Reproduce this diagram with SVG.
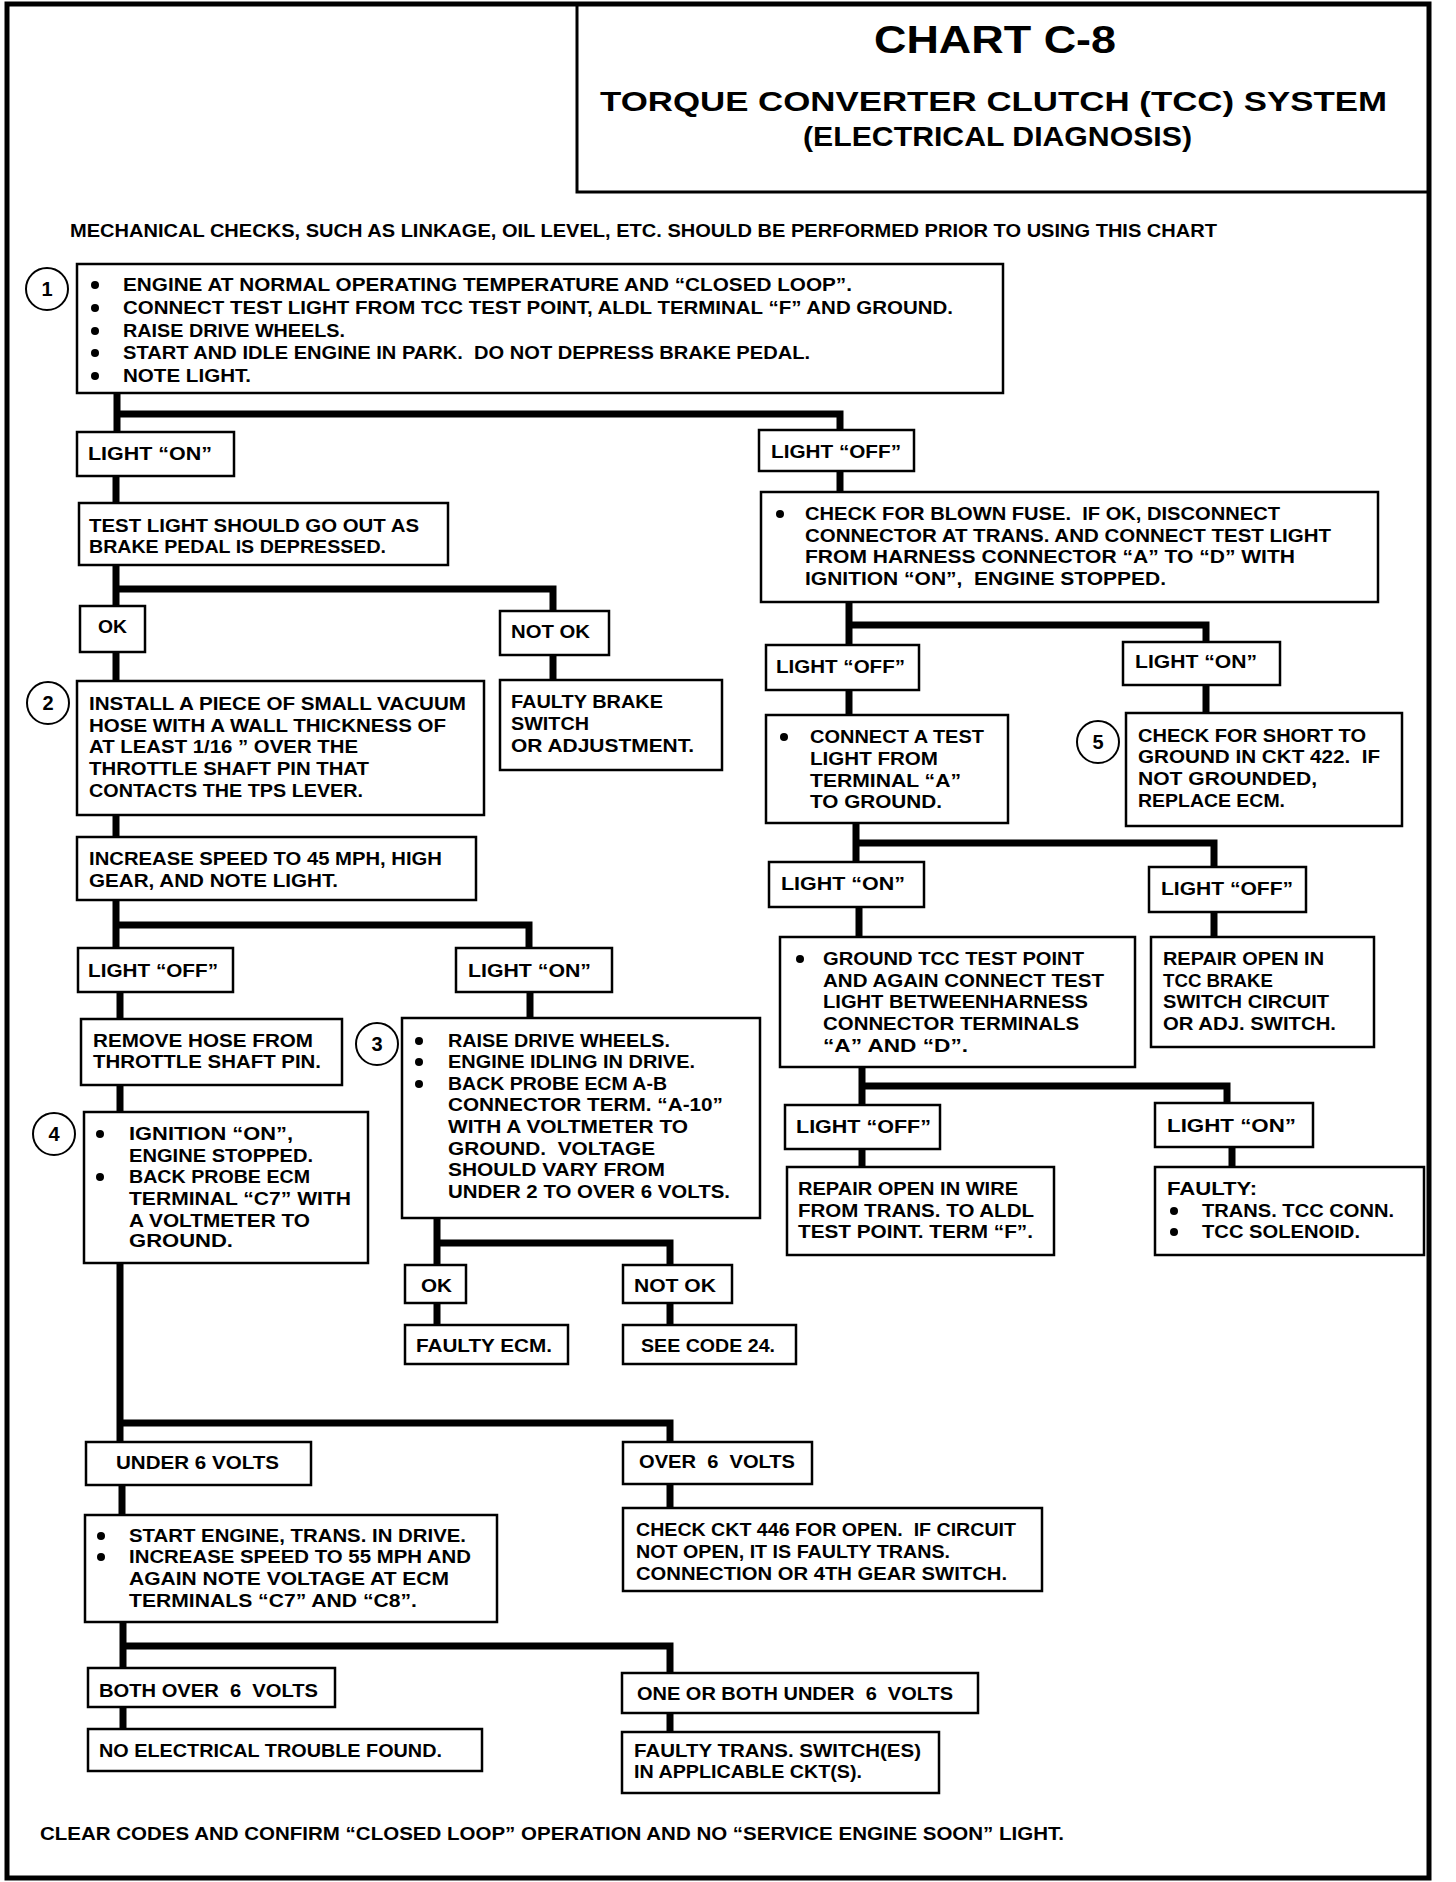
<svg xmlns="http://www.w3.org/2000/svg" width="1456" height="1882" viewBox="0 0 1456 1882">
<style>
.b{fill:#fff;stroke:#000;stroke-width:2.5}
.t{font-family:"Liberation Sans",Arial,sans-serif;font-weight:bold;font-size:18.5px;fill:#000;white-space:pre}
.h{font-family:"Liberation Sans",Arial,sans-serif;font-weight:bold;fill:#000}
.c{fill:none;stroke:#000;stroke-width:7;stroke-linejoin:miter}
.n{fill:#fff;stroke:#000;stroke-width:2}
.d{fill:#000}
.ct{font-family:"Liberation Sans",Arial,sans-serif;font-weight:bold;font-size:20px;fill:#000;text-anchor:middle}
</style>
<rect width="1456" height="1882" fill="#fff"/>
<g id="frame">
<rect x="7" y="4" width="1422" height="1874" fill="none" stroke="#000" stroke-width="5"/>
<path d="M577,4 V192 H1429" fill="none" stroke="#000" stroke-width="3"/>
<text class="h" x="874" y="53" font-size="39" textLength="242" lengthAdjust="spacingAndGlyphs">CHART C-8</text>
<text class="h" x="600" y="111" font-size="28" textLength="787" lengthAdjust="spacingAndGlyphs">TORQUE CONVERTER CLUTCH (TCC) SYSTEM</text>
<text class="h" x="803" y="146" font-size="28" textLength="389" lengthAdjust="spacingAndGlyphs">(ELECTRICAL DIAGNOSIS)</text>
<text class="t" x="70" y="237" textLength="1147" lengthAdjust="spacingAndGlyphs">MECHANICAL CHECKS, SUCH AS LINKAGE, OIL LEVEL, ETC. SHOULD BE PERFORMED PRIOR TO USING THIS CHART</text>
<text class="t" x="40" y="1840" font-size="20" textLength="1024" lengthAdjust="spacingAndGlyphs">CLEAR CODES AND CONFIRM “CLOSED LOOP” OPERATION AND NO “SERVICE ENGINE SOON” LIGHT.</text>
</g>
<g id="connectors">
<path class="c" d="M117,393 V432 M117,414 H840 V430"/>
<path class="c" d="M116,476 V503"/>
<path class="c" d="M116,565 V606 M116,589 H553 V611"/>
<path class="c" d="M553,655 V680"/>
<path class="c" d="M116,652 V681"/>
<path class="c" d="M116,815 V837"/>
<path class="c" d="M116,900 V948 M116,925 H529 V948"/>
<path class="c" d="M120,992 V1019"/>
<path class="c" d="M120,1085 V1112"/>
<path class="c" d="M120,1263 V1442 M120,1423 H670 V1442"/>
<path class="c" d="M530,992 V1018"/>
<path class="c" d="M437,1218 V1265 M437,1243 H670 V1265"/>
<path class="c" d="M437,1303 V1325 M670,1303 V1325"/>
<path class="c" d="M840,471 V492"/>
<path class="c" d="M849,602 V645 M849,625 H1206 V642"/>
<path class="c" d="M849,690 V715"/>
<path class="c" d="M1206,685 V713"/>
<path class="c" d="M856,823 V862 M856,843 H1214 V867"/>
<path class="c" d="M859,907 V937 M1214,912 V937"/>
<path class="c" d="M862,1067 V1105 M862,1086 H1227 V1103"/>
<path class="c" d="M862,1149 V1167 M1232,1147 V1167"/>
<path class="c" d="M122,1485 V1515 M670,1484 V1508"/>
<path class="c" d="M123,1622 V1668 M123,1646 H670 V1673"/>
<path class="c" d="M123,1707 V1729 M670,1713 V1732"/>
</g>
<g id="n1">
<circle class="n" cx="47" cy="289" r="21"/><text class="ct" x="47" y="296">1</text>
<rect class="b" x="77" y="264" width="926" height="129"/>
<circle class="d" cx="95" cy="285" r="4"/><circle class="d" cx="95" cy="308" r="4"/><circle class="d" cx="95" cy="331" r="4"/><circle class="d" cx="95" cy="353" r="4"/><circle class="d" cx="95" cy="376" r="4"/>
<text class="t" x="123" y="291" textLength="729" lengthAdjust="spacingAndGlyphs">ENGINE AT NORMAL OPERATING TEMPERATURE AND “CLOSED LOOP”.</text>
<text class="t" x="123" y="314" textLength="830" lengthAdjust="spacingAndGlyphs">CONNECT TEST LIGHT FROM TCC TEST POINT, ALDL TERMINAL “F” AND GROUND.</text>
<text class="t" x="123" y="337" textLength="222" lengthAdjust="spacingAndGlyphs">RAISE DRIVE WHEELS.</text>
<text class="t" x="123" y="359" textLength="687" lengthAdjust="spacingAndGlyphs">START AND IDLE ENGINE IN PARK.  DO NOT DEPRESS BRAKE PEDAL.</text>
<text class="t" x="123" y="382" textLength="128" lengthAdjust="spacingAndGlyphs">NOTE LIGHT.</text>
</g>
<g id="n_on1"><rect class="b" x="77" y="432" width="157" height="44"/><text class="t" x="88" y="460" textLength="124" lengthAdjust="spacingAndGlyphs">LIGHT “ON”</text></g>
<g id="n_test"><rect class="b" x="79" y="503" width="369" height="62"/>
<text class="t" x="89" y="532" textLength="330" lengthAdjust="spacingAndGlyphs">TEST LIGHT SHOULD GO OUT AS</text>
<text class="t" x="89" y="553" textLength="297" lengthAdjust="spacingAndGlyphs">BRAKE PEDAL IS DEPRESSED.</text></g>
<g id="n_ok1"><rect class="b" x="80" y="606" width="65" height="46"/><text class="t" x="98" y="633" textLength="29" lengthAdjust="spacingAndGlyphs">OK</text></g>
<g id="n_notok1"><rect class="b" x="500" y="611" width="109" height="44"/><text class="t" x="511" y="638" textLength="79" lengthAdjust="spacingAndGlyphs">NOT OK</text></g>
<g id="n_brake"><rect class="b" x="500" y="680" width="222" height="90"/>
<text class="t" x="511" y="708" textLength="152" lengthAdjust="spacingAndGlyphs">FAULTY BRAKE</text>
<text class="t" x="511" y="730" textLength="78" lengthAdjust="spacingAndGlyphs">SWITCH</text>
<text class="t" x="511" y="752" textLength="183" lengthAdjust="spacingAndGlyphs">OR ADJUSTMENT.</text></g>
<g id="n2">
<circle class="n" cx="48" cy="703" r="21"/><text class="ct" x="48" y="710">2</text>
<rect class="b" x="77" y="681" width="407" height="134"/>
<text class="t" x="89" y="710" textLength="377" lengthAdjust="spacingAndGlyphs">INSTALL A PIECE OF SMALL VACUUM</text>
<text class="t" x="89" y="732" textLength="357" lengthAdjust="spacingAndGlyphs">HOSE WITH A WALL THICKNESS OF</text>
<text class="t" x="89" y="753" textLength="269" lengthAdjust="spacingAndGlyphs">AT LEAST 1/16 ” OVER THE</text>
<text class="t" x="89" y="775" textLength="280" lengthAdjust="spacingAndGlyphs">THROTTLE SHAFT PIN THAT</text>
<text class="t" x="89" y="797" textLength="274" lengthAdjust="spacingAndGlyphs">CONTACTS THE TPS LEVER.</text></g>
<g id="n_inc45"><rect class="b" x="77" y="837" width="399" height="63"/>
<text class="t" x="89" y="865" textLength="353" lengthAdjust="spacingAndGlyphs">INCREASE SPEED TO 45 MPH, HIGH</text>
<text class="t" x="89" y="887" textLength="249" lengthAdjust="spacingAndGlyphs">GEAR, AND NOTE LIGHT.</text></g>
<g id="n_off2"><rect class="b" x="78" y="948" width="155" height="44"/><text class="t" x="88" y="977" textLength="130" lengthAdjust="spacingAndGlyphs">LIGHT “OFF”</text></g>
<g id="n_on3"><rect class="b" x="456" y="948" width="156" height="44"/><text class="t" x="468" y="977" textLength="123" lengthAdjust="spacingAndGlyphs">LIGHT “ON”</text></g>
<g id="n_remove"><rect class="b" x="81" y="1019" width="261" height="66"/>
<text class="t" x="93" y="1047" textLength="220" lengthAdjust="spacingAndGlyphs">REMOVE HOSE FROM</text>
<text class="t" x="93" y="1068" textLength="228" lengthAdjust="spacingAndGlyphs">THROTTLE SHAFT PIN.</text></g>
<g id="n4">
<circle class="n" cx="54" cy="1134" r="21"/><text class="ct" x="54" y="1141">4</text>
<rect class="b" x="84" y="1112" width="284" height="151"/>
<circle class="d" cx="100" cy="1134" r="4"/><circle class="d" cx="100" cy="1177" r="4"/>
<text class="t" x="129" y="1140" textLength="164" lengthAdjust="spacingAndGlyphs">IGNITION “ON”,</text>
<text class="t" x="129" y="1162" textLength="184" lengthAdjust="spacingAndGlyphs">ENGINE STOPPED.</text>
<text class="t" x="129" y="1183" textLength="181" lengthAdjust="spacingAndGlyphs">BACK PROBE ECM</text>
<text class="t" x="129" y="1205" textLength="222" lengthAdjust="spacingAndGlyphs">TERMINAL “C7” WITH</text>
<text class="t" x="129" y="1227" textLength="181" lengthAdjust="spacingAndGlyphs">A VOLTMETER TO</text>
<text class="t" x="129" y="1247" textLength="104" lengthAdjust="spacingAndGlyphs">GROUND.</text></g>
<g id="n3">
<circle class="n" cx="377" cy="1044" r="21"/><text class="ct" x="377" y="1051">3</text>
<rect class="b" x="402" y="1018" width="358" height="200"/>
<circle class="d" cx="419" cy="1041" r="4"/><circle class="d" cx="419" cy="1062" r="4"/><circle class="d" cx="419" cy="1084" r="4"/>
<text class="t" x="448" y="1047" textLength="222" lengthAdjust="spacingAndGlyphs">RAISE DRIVE WHEELS.</text>
<text class="t" x="448" y="1068" textLength="247" lengthAdjust="spacingAndGlyphs">ENGINE IDLING IN DRIVE.</text>
<text class="t" x="448" y="1090" textLength="219" lengthAdjust="spacingAndGlyphs">BACK PROBE ECM A-B</text>
<text class="t" x="448" y="1111" textLength="275" lengthAdjust="spacingAndGlyphs">CONNECTOR TERM. “A-10”</text>
<text class="t" x="448" y="1133" textLength="240" lengthAdjust="spacingAndGlyphs">WITH A VOLTMETER TO</text>
<text class="t" x="448" y="1155" textLength="207" lengthAdjust="spacingAndGlyphs">GROUND.  VOLTAGE</text>
<text class="t" x="448" y="1176" textLength="217" lengthAdjust="spacingAndGlyphs">SHOULD VARY FROM</text>
<text class="t" x="448" y="1198" textLength="282" lengthAdjust="spacingAndGlyphs">UNDER 2 TO OVER 6 VOLTS.</text></g>
<g id="n_ok2"><rect class="b" x="405" y="1265" width="61" height="38"/><text class="t" x="421" y="1292" textLength="31" lengthAdjust="spacingAndGlyphs">OK</text></g>
<g id="n_notok2"><rect class="b" x="623" y="1265" width="109" height="38"/><text class="t" x="634" y="1292" textLength="82" lengthAdjust="spacingAndGlyphs">NOT OK</text></g>
<g id="n_ecm"><rect class="b" x="405" y="1325" width="163" height="39"/><text class="t" x="416" y="1352" textLength="136" lengthAdjust="spacingAndGlyphs">FAULTY ECM.</text></g>
<g id="n_code24"><rect class="b" x="623" y="1325" width="173" height="39"/><text class="t" x="641" y="1352" textLength="134" lengthAdjust="spacingAndGlyphs">SEE CODE 24.</text></g>
<g id="n_off1"><rect class="b" x="759" y="430" width="155" height="41"/><text class="t" x="771" y="458" textLength="130" lengthAdjust="spacingAndGlyphs">LIGHT “OFF”</text></g>
<g id="n_fuse"><rect class="b" x="761" y="492" width="617" height="110"/>
<circle class="d" cx="780" cy="514" r="4"/>
<text class="t" x="805" y="520" textLength="475" lengthAdjust="spacingAndGlyphs">CHECK FOR BLOWN FUSE.  IF OK, DISCONNECT</text>
<text class="t" x="805" y="542" textLength="526" lengthAdjust="spacingAndGlyphs">CONNECTOR AT TRANS. AND CONNECT TEST LIGHT</text>
<text class="t" x="805" y="563" textLength="490" lengthAdjust="spacingAndGlyphs">FROM HARNESS CONNECTOR “A” TO “D” WITH</text>
<text class="t" x="805" y="585" textLength="361" lengthAdjust="spacingAndGlyphs">IGNITION “ON”,  ENGINE STOPPED.</text></g>
<g id="n_off3"><rect class="b" x="766" y="645" width="153" height="45"/><text class="t" x="776" y="673" textLength="129" lengthAdjust="spacingAndGlyphs">LIGHT “OFF”</text></g>
<g id="n_on2"><rect class="b" x="1123" y="642" width="157" height="43"/><text class="t" x="1135" y="668" textLength="122" lengthAdjust="spacingAndGlyphs">LIGHT “ON”</text></g>
<g id="n_connect"><rect class="b" x="766" y="715" width="242" height="108"/>
<circle class="d" cx="784" cy="737" r="4"/>
<text class="t" x="810" y="743" textLength="174" lengthAdjust="spacingAndGlyphs">CONNECT A TEST</text>
<text class="t" x="810" y="765" textLength="128" lengthAdjust="spacingAndGlyphs">LIGHT FROM</text>
<text class="t" x="810" y="787" textLength="151" lengthAdjust="spacingAndGlyphs">TERMINAL “A”</text>
<text class="t" x="810" y="808" textLength="132" lengthAdjust="spacingAndGlyphs">TO GROUND.</text></g>
<g id="n5">
<circle class="n" cx="1098" cy="742" r="21"/><text class="ct" x="1098" y="749">5</text>
<rect class="b" x="1126" y="713" width="276" height="113"/>
<text class="t" x="1138" y="742" textLength="228" lengthAdjust="spacingAndGlyphs">CHECK FOR SHORT TO</text>
<text class="t" x="1138" y="763" textLength="242" lengthAdjust="spacingAndGlyphs">GROUND IN CKT 422.  IF</text>
<text class="t" x="1138" y="785" textLength="179" lengthAdjust="spacingAndGlyphs">NOT GROUNDED,</text>
<text class="t" x="1138" y="807" textLength="147" lengthAdjust="spacingAndGlyphs">REPLACE ECM.</text></g>
<g id="n_on4"><rect class="b" x="769" y="862" width="155" height="45"/><text class="t" x="781" y="890" textLength="124" lengthAdjust="spacingAndGlyphs">LIGHT “ON”</text></g>
<g id="n_off4"><rect class="b" x="1149" y="867" width="157" height="45"/><text class="t" x="1161" y="895" textLength="132" lengthAdjust="spacingAndGlyphs">LIGHT “OFF”</text></g>
<g id="n_ground"><rect class="b" x="780" y="937" width="355" height="130"/>
<circle class="d" cx="800" cy="959" r="4"/>
<text class="t" x="823" y="965" textLength="261" lengthAdjust="spacingAndGlyphs">GROUND TCC TEST POINT</text>
<text class="t" x="823" y="987" textLength="281" lengthAdjust="spacingAndGlyphs">AND AGAIN CONNECT TEST</text>
<text class="t" x="823" y="1008" textLength="265" lengthAdjust="spacingAndGlyphs">LIGHT BETWEENHARNESS</text>
<text class="t" x="823" y="1030" textLength="256" lengthAdjust="spacingAndGlyphs">CONNECTOR TERMINALS</text>
<text class="t" x="823" y="1052" textLength="145" lengthAdjust="spacingAndGlyphs">“A” AND “D”.</text></g>
<g id="n_brakesw"><rect class="b" x="1151" y="937" width="223" height="110"/>
<text class="t" x="1163" y="965" textLength="161" lengthAdjust="spacingAndGlyphs">REPAIR OPEN IN</text>
<text class="t" x="1163" y="987" textLength="110" lengthAdjust="spacingAndGlyphs">TCC BRAKE</text>
<text class="t" x="1163" y="1008" textLength="166" lengthAdjust="spacingAndGlyphs">SWITCH CIRCUIT</text>
<text class="t" x="1163" y="1030" textLength="173" lengthAdjust="spacingAndGlyphs">OR ADJ. SWITCH.</text></g>
<g id="n_off5"><rect class="b" x="785" y="1105" width="155" height="44"/><text class="t" x="796" y="1133" textLength="135" lengthAdjust="spacingAndGlyphs">LIGHT “OFF”</text></g>
<g id="n_on5"><rect class="b" x="1155" y="1103" width="158" height="44"/><text class="t" x="1167" y="1132" textLength="129" lengthAdjust="spacingAndGlyphs">LIGHT “ON”</text></g>
<g id="n_wire"><rect class="b" x="787" y="1167" width="267" height="88"/>
<text class="t" x="798" y="1195" textLength="220" lengthAdjust="spacingAndGlyphs">REPAIR OPEN IN WIRE</text>
<text class="t" x="798" y="1217" textLength="236" lengthAdjust="spacingAndGlyphs">FROM TRANS. TO ALDL</text>
<text class="t" x="798" y="1238" textLength="235" lengthAdjust="spacingAndGlyphs">TEST POINT. TERM “F”.</text></g>
<g id="n_faulty"><rect class="b" x="1155" y="1167" width="269" height="88"/>
<circle class="d" cx="1174" cy="1211" r="4"/><circle class="d" cx="1174" cy="1232" r="4"/>
<text class="t" x="1167" y="1195" textLength="90" lengthAdjust="spacingAndGlyphs">FAULTY:</text>
<text class="t" x="1202" y="1217" textLength="192" lengthAdjust="spacingAndGlyphs">TRANS. TCC CONN.</text>
<text class="t" x="1202" y="1238" textLength="158" lengthAdjust="spacingAndGlyphs">TCC SOLENOID.</text></g>
<g id="n_under6"><rect class="b" x="86" y="1442" width="225" height="43"/><text class="t" x="116" y="1469" textLength="163" lengthAdjust="spacingAndGlyphs">UNDER 6 VOLTS</text></g>
<g id="n_over6"><rect class="b" x="623" y="1442" width="189" height="42"/><text class="t" x="639" y="1468" textLength="156" lengthAdjust="spacingAndGlyphs">OVER  6  VOLTS</text></g>
<g id="n_start"><rect class="b" x="85" y="1515" width="412" height="107"/>
<circle class="d" cx="101" cy="1536" r="4"/><circle class="d" cx="101" cy="1557" r="4"/>
<text class="t" x="129" y="1542" textLength="337" lengthAdjust="spacingAndGlyphs">START ENGINE, TRANS. IN DRIVE.</text>
<text class="t" x="129" y="1563" textLength="342" lengthAdjust="spacingAndGlyphs">INCREASE SPEED TO 55 MPH AND</text>
<text class="t" x="129" y="1585" textLength="320" lengthAdjust="spacingAndGlyphs">AGAIN NOTE VOLTAGE AT ECM</text>
<text class="t" x="129" y="1607" textLength="288" lengthAdjust="spacingAndGlyphs">TERMINALS “C7” AND “C8”.</text></g>
<g id="n_ckt446"><rect class="b" x="623" y="1508" width="419" height="83"/>
<text class="t" x="636" y="1536" textLength="380" lengthAdjust="spacingAndGlyphs">CHECK CKT 446 FOR OPEN.  IF CIRCUIT</text>
<text class="t" x="636" y="1558" textLength="314" lengthAdjust="spacingAndGlyphs">NOT OPEN, IT IS FAULTY TRANS.</text>
<text class="t" x="636" y="1580" textLength="371" lengthAdjust="spacingAndGlyphs">CONNECTION OR 4TH GEAR SWITCH.</text></g>
<g id="n_bothover"><rect class="b" x="88" y="1668" width="247" height="39"/><text class="t" x="99" y="1697" textLength="219" lengthAdjust="spacingAndGlyphs">BOTH OVER  6  VOLTS</text></g>
<g id="n_oneunder"><rect class="b" x="622" y="1673" width="356" height="40"/><text class="t" x="637" y="1700" textLength="316" lengthAdjust="spacingAndGlyphs">ONE OR BOTH UNDER  6  VOLTS</text></g>
<g id="n_notrouble"><rect class="b" x="88" y="1729" width="394" height="42"/><text class="t" x="99" y="1757" textLength="343" lengthAdjust="spacingAndGlyphs">NO ELECTRICAL TROUBLE FOUND.</text></g>
<g id="n_transsw"><rect class="b" x="622" y="1732" width="317" height="61"/>
<text class="t" x="634" y="1757" textLength="287" lengthAdjust="spacingAndGlyphs">FAULTY TRANS. SWITCH(ES)</text>
<text class="t" x="634" y="1778" textLength="228" lengthAdjust="spacingAndGlyphs">IN APPLICABLE CKT(S).</text></g>
</svg>
